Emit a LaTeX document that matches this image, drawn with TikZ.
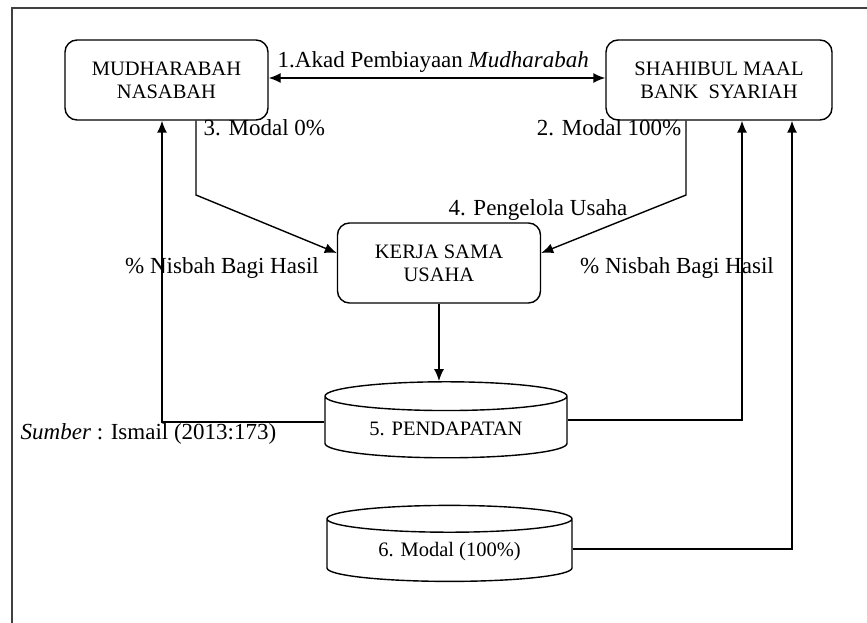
\documentclass[tikz,border=0pt]{standalone}
\usepackage{fontspec}
\setmainfont{Liberation Serif}
\usetikzlibrary{arrows.meta,shapes.geometric,positioning}

\begin{document}
\begin{tikzpicture}
[x=1pt,y=-1pt,line width=1.4pt,>={Latex[length=12pt,width=10pt]}]
\tikzset{
	box/.style = {rectangle, draw, rounded corners=12pt, align=center, font=\fontsize{20.5}{23}\selectfont},
	tank/.style = {cylinder, draw, shape border rotate=90, aspect=0.18, font=\fontsize{20.5}{23}\selectfont},
	lbl/.style = {inner sep=0, font=\fontsize{23}{27}\selectfont}
}
\useasboundingbox (0,0) rectangle (867,623);
\draw [line width=2pt, black!75] (12,623) -- (12,8) -- (867,8);

\node(nasabah) [box, minimum width=203, minimum height=80] at (166.5,80) {MUDHARABAH\\NASABAH};
\node(shahibul) [box, minimum width=226, minimum height=80] at (719,80) {SHAHIBUL MAAL\\BANK\ \ SYARIAH};
\node(kerja) [box, minimum width=203, minimum height=80] at (439,263) {KERJA SAMA\\USAHA};
\node(pendapatan) [tank, minimum width=242, minimum height=76] at (446,429) {5. PENDAPATAN};
\node(modal) [tank, minimum width=245, minimum height=76] at (449.5,552) {6. Modal (100\%)};

\coordinate (bendL) at (196,195);
\coordinate (bendR) at (686,195);
\coordinate (backL) at (162,0);
\coordinate (backR) at (742,0);
\coordinate (backM) at (792,0);

\draw [<->] ([yshift=2pt]nasabah.east) -- ([yshift=2pt]shahibul.west);
\draw [->] (nasabah.south -| bendL) -- (bendL) -- ([yshift=10pt]kerja.west);
\draw [->] (shahibul.south -| bendR) -- (bendR) -- ([yshift=10pt]kerja.east);
\draw [->] (kerja.south) -- (kerja.south |- pendapatan.north);
\draw [->] ([yshift=7pt]pendapatan.west) -| (backL |- nasabah.south);
\draw [->] ([yshift=9pt]pendapatan.east) -| (backR |- shahibul.south);
\draw [->] ([yshift=3pt]modal.east) -| (backM |- shahibul.south);

\node(akad) [lbl, anchor=west] at (277,62) {1.Akad Pembiayaan \textit{Mudharabah}};
\node(modal0) [lbl, anchor=west] at (203,128) {3. Modal 0\%};
\node(modal100) [lbl, anchor=east] at (682,128) {2. Modal 100\%};
\node(kelola) [lbl] at (538,210) {4. Pengelola Usaha};
\node(nisbahL) [lbl] at (222,268) {\% Nisbah Bagi Hasil};
\node(nisbahR) [lbl] at (677,268) {\% Nisbah Bagi Hasil};
\node(sumber) [lbl, anchor=west] at (20,434) {\textit{Sumber} : Ismail (2013:173)};
\end{tikzpicture}
\end{document}
